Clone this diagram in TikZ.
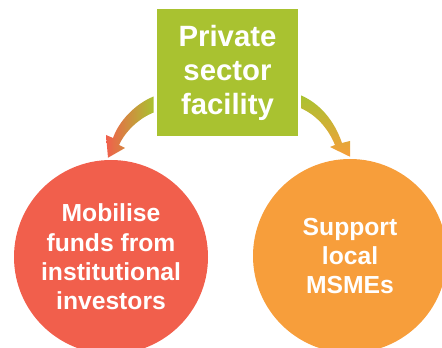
\documentclass[tikz,border=0pt]{standalone}
\usepackage{fontspec}
\setmainfont{Liberation Sans}
\usetikzlibrary{calc}
\definecolor{facgreen}{HTML}{A9C230}
\definecolor{mobred}{HTML}{F15F4C}
\definecolor{suporange}{HTML}{F79E3B}

\begin{document}
\begin{tikzpicture}[
    x=0.75pt, y=-0.75pt,
    facility/.style={fill=facgreen, text=white, align=center, inner sep=0pt,
      minimum width=106pt, minimum height=95.25pt,
      font=\bfseries\fontsize{22}{25.5}\selectfont},
    goal/.style={circle, text=white, align=center, inner sep=0pt, minimum size=145.5pt,
      font=\bfseries\fontsize{18.5}{22}\selectfont}
]
\useasboundingbox (0,0) rectangle (442,348);
\clip (0,0) rectangle (442,348);

\node[facility] (fac) at (227.5,72.5) {Private\\sector\\facility};
\node[goal, fill=mobred] (mob) at (111,257) {Mobilise\\funds from\\institutional\\investors};
\node[goal, fill=suporange] (sup) at (350,256) {Support\\local\\MSMEs};

% curved arrows, shaded from the facility colour
\coordinate (ltail) at ($(fac.west)+(-3,24)$);
\coordinate (ltip) at ($(mob.north)+(-3,-2)$);
\shade[left color=mobred, right color=facgreen]
  (ltail) .. controls (135,104) and (119,121) .. (113,138) -- (106,135) -- (ltip)
  -- (125,148) -- (119,145) .. controls (126,130) and (140,118) .. ($(ltail)+(0,16)$) -- cycle;

\coordinate (rtail) at ($(fac.east)+(3,23)$);
\coordinate (rtip) at ($(sup.north)+(0,-2)$);
\shade[top color=facgreen, bottom color=suporange]
  (rtail) .. controls (320,104) and (334,120) .. (342,143) -- (350,141) -- (rtip)
  -- (330,147) -- (335,145) .. controls (328,128) and (316,115) .. ($(rtail)+(0,13)$) -- cycle;
\end{tikzpicture}
\end{document}
